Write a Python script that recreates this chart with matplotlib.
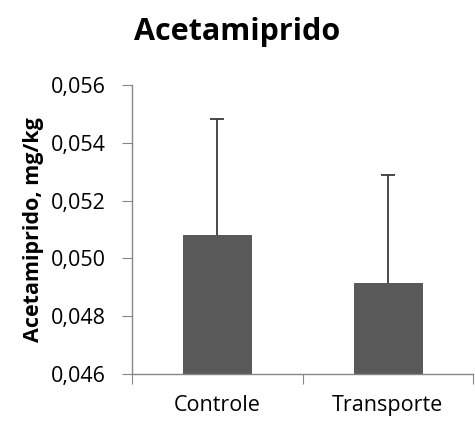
import matplotlib.pyplot as plt
from matplotlib.ticker import FuncFormatter

categories = ["Controle", "Transporte"]
means = [0.05081, 0.04916]
errors_up = [0.00402, 0.00372]
ymin, ymax = 0.046, 0.056
yticks = [0.046, 0.048, 0.050, 0.052, 0.054, 0.056]

plt.rcParams["font.family"] = ["Open Sans", "DejaVu Sans"]

fig = plt.figure(figsize=(4.75, 4.21), dpi=100)
ax = fig.add_axes([0.278, 0.112, 0.718, 0.686])

xs = list(range(len(categories)))
ax.bar(xs, [m - ymin for m in means], bottom=ymin, width=0.4,
       color="#595959", edgecolor="#4a4a4a", linewidth=0.6, zorder=2)
eb = ax.errorbar(xs, means, yerr=[[0] * len(means), errors_up], fmt="none",
                 ecolor="#3a3a3a", elinewidth=1.3, capsize=5, capthick=1.3, zorder=3)
# only the upper cap, like the original
eb[1][0].set_visible(False)

ax.set_xlim(-0.5, len(categories) - 0.5)
ax.set_ylim(ymin, ymax)
ax.set_yticks(yticks)
ax.yaxis.set_major_formatter(FuncFormatter(lambda v, p: f"{v:.3f}".replace(".", ",")))
ax.set_xticks([-0.5, 0.5, 1.5])
ax.set_xticklabels([])
ax.set_xticks(xs, minor=True)
ax.set_xticklabels(categories, minor=True)
ax.tick_params(axis="x", which="minor", length=0, labelsize=15.5, pad=15)
ax.tick_params(axis="x", which="major", length=7, color="#868686", direction="out")
ax.tick_params(axis="y", length=7, color="#868686", labelsize=15.5, pad=12)

for side in ["top", "right"]:
    ax.spines[side].set_visible(False)
for side in ["left", "bottom"]:
    ax.spines[side].set_color("#868686")
    ax.spines[side].set_linewidth(1.0)

ax.set_ylabel("Acetamiprido, mg/kg", fontsize=15.5, fontweight="bold", labelpad=5)
fig.text(0.5, 0.925, "Acetamiprido", ha="center", va="center",
         fontsize=22, fontweight="bold")

fig.savefig("out.png", dpi=100)
